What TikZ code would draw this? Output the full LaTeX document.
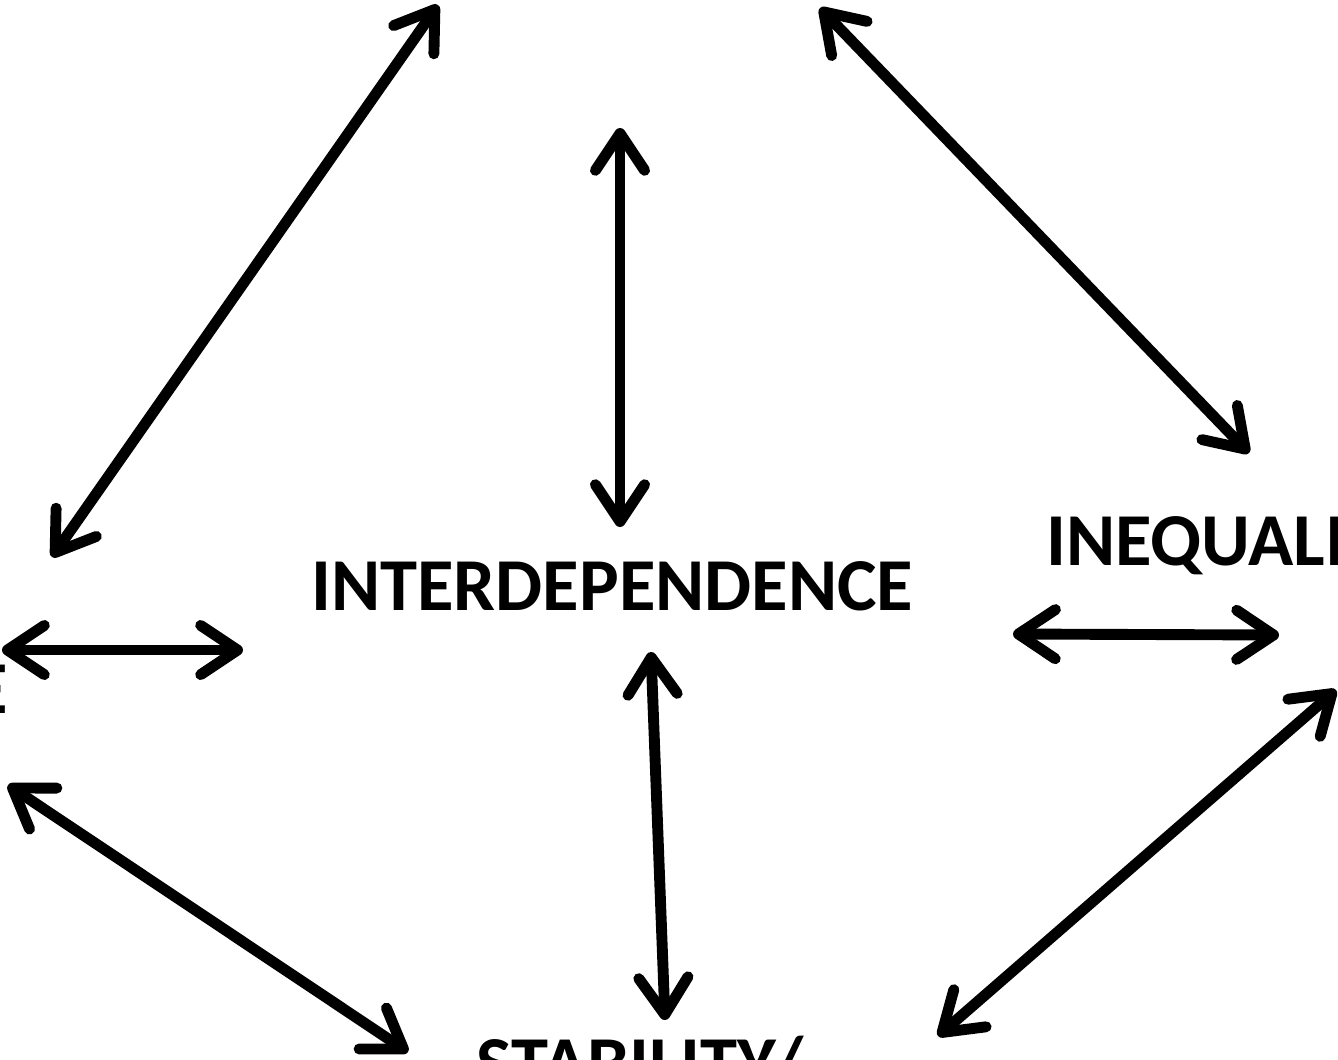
\documentclass[tikz,border=0pt]{standalone}
\usepackage{fontspec}
\setmainfont{Carlito}
\usetikzlibrary{arrows.meta}

\begin{document}
\begin{tikzpicture}[x=0.02cm,y=-0.02cm,
    link/.style={line width=6.2pt,
      {Straight Barb[round,length=21pt,width=28pt]}-{Straight Barb[round,length=21pt,width=28pt]}},
    word/.style={font=\fontsize{42.5}{50}\selectfont\bfseries,inner sep=0pt,anchor=base west}]
                \useasboundingbox (0,0) rectangle (1338,1059);
                % words
                \node[word](inter) at (311,610) {INTERDEPENDENCE};
                \node[word](ineq) at (1046,565) {INEQUALITY};
                \node[word](stab) at (476,1088) {STABILITY/};
                \node[word,anchor=base east](left) at (8,713) {E};
                % arrow ends
                \coordinate (tl1) at (438,5);   \coordinate (tl2) at (52,557);
                \coordinate (tv1) at (620,128); \coordinate (tv2) at (620,527);
                \coordinate (tr1) at (820,8);   \coordinate (tr2) at (1249,453);
                \coordinate (lh1) at (2,650);   \coordinate (lh2) at (243,650);
                \coordinate (rh1) at (1013,634); \coordinate (rh2) at (1279,635);
                \coordinate (cb1) at (651,652); \coordinate (cb2) at (665,1020);
                \coordinate (bl1) at (8,785);   \coordinate (bl2) at (408,1052);
                \coordinate (br1) at (1336,690); \coordinate (br2) at (938,1036);
                \path[link]
                (tl1) edge (tl2)
                (tv1) edge (tv2)
                (tr1) edge (tr2)
                (lh1) edge (lh2)
                (rh1) edge (rh2)
                (cb1) edge (cb2)
                (bl1) edge (bl2)
                (br1) edge (br2);
            \end{tikzpicture}
\end{document}
